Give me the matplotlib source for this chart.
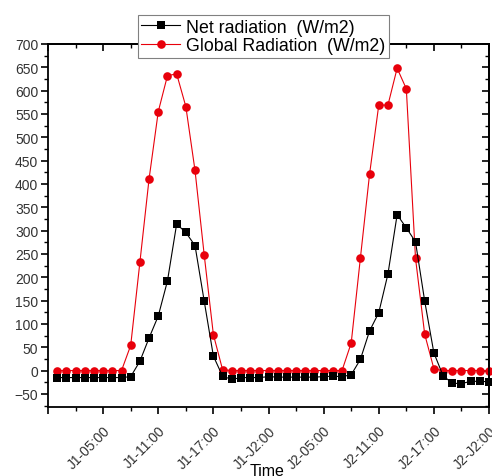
import matplotlib
matplotlib.use("Agg")
import matplotlib.pyplot as plt
import numpy as np
from matplotlib.ticker import MultipleLocator, FixedLocator

plt.rcParams['font.family'] = ['Liberation Sans', 'DejaVu Sans']

# hour index, 0 = J1-00:00 ... 47 = J2-23:00
hours = np.arange(48)

net_rad = [-15, -15, -15, -15, -15, -15, -15, -15,
           -13, 20, 70, 117, 192, 314, 296, 268, 149, 31,
           -12, -19, -15, -15, -15, -13, -14, -14, -14, -14, -14, -13, -12, -13,
           -9, 24, 85, 124, 207, 334, 306, 276, 149, 38,
           -11, -27, -28, -23, -23, -24]

global_rad = [0, 0, 0, 0, 0, 0, 0, 0,
              54, 232, 411, 555, 632, 636, 566, 429, 248, 77,
              2, 0, 0, 0, 0, 0, 0, 0, 0, 0, 0, 0, 0, 0,
              59, 241, 421, 569, 569, 648, 604, 241, 78, 4,
              0, 0, 0, 0, 0, 0]

tick_pos = [5, 11, 17, 23, 29, 35, 41, 47]
tick_labels = ["J1-05:00", "J1-11:00", "J1-17:00", "J1-J2:00",
               "J2-05:00", "J2-11:00", "J2-17:00", "J2-J2:00"]

fig = plt.figure(figsize=(4.92, 4.77), dpi=100)
ax = fig.add_axes([0.0976, 0.1457, 0.8963, 0.7600])

red_line, = ax.plot(hours, global_rad, color="#e8000b", linewidth=0.8,
                    marker="o", markersize=6.2, markeredgewidth=0,
                    label="Global Radiation  (W/m2)", zorder=2, clip_on=False)
blk_line, = ax.plot(hours, net_rad, color="black", linewidth=0.8,
                    marker="s", markersize=5.5, markeredgewidth=0,
                    label="Net radiation  (W/m2)", zorder=3, clip_on=False)

ax.set_xlim(-1, 47)
ax.set_ylim(-77, 700)

ax.xaxis.set_major_locator(FixedLocator([-1] + tick_pos))
ax.set_xticklabels([""] + tick_labels, rotation=45, ha="right",
                   rotation_mode="anchor", fontsize=10)
ax.xaxis.set_minor_locator(MultipleLocator(3, offset=2))
ax.yaxis.set_major_locator(MultipleLocator(50))
ax.yaxis.set_minor_locator(MultipleLocator(25))
ax.tick_params(axis="y", labelsize=10, pad=2, labelcolor="#333333")
ax.tick_params(axis="x", pad=7, labelcolor="#333333")

ax.tick_params(which="major", direction="out", length=5, width=1.2,
               top=False, right=False)
ax.tick_params(which="minor", direction="out", length=3, width=1.0,
               top=False, right=False)

# inward ticks on the top and right sides
ax2 = ax.secondary_xaxis("top")
ax2.xaxis.set_major_locator(FixedLocator([-1] + tick_pos))
ax2.xaxis.set_minor_locator(MultipleLocator(3, offset=2))
ax2.tick_params(which="major", direction="in", length=5, width=1.2, labeltop=False)
ax2.tick_params(which="minor", direction="in", length=3, width=1.0)
ax2.set_xticklabels([])
ay2 = ax.secondary_yaxis("right")
ay2.yaxis.set_major_locator(MultipleLocator(50))
ay2.yaxis.set_minor_locator(MultipleLocator(25))
ay2.tick_params(which="major", direction="in", length=5, width=1.2, labelright=False)
ay2.tick_params(which="minor", direction="in", length=3, width=1.0)
ay2.set_yticklabels([])

for sp in ax.spines.values():
    sp.set_linewidth(1.3)
ax2.spines["top"].set_linewidth(1.3)
ay2.spines["right"].set_linewidth(1.3)

leg = fig.legend(handles=[blk_line, red_line], loc="upper center",
                 bbox_to_anchor=(0.535, 0.985), fontsize=12.8,
                 handlelength=2.2, handletextpad=0.3, borderpad=0.2,
                 labelspacing=0.1, fancybox=False, framealpha=1,
                 edgecolor="#808080")
leg.get_frame().set_linewidth(0.8)

fig.text(0.543, 0.028, "Time", ha="center", va="top", fontsize=11.5)

fig.savefig("out.png", dpi=100)
